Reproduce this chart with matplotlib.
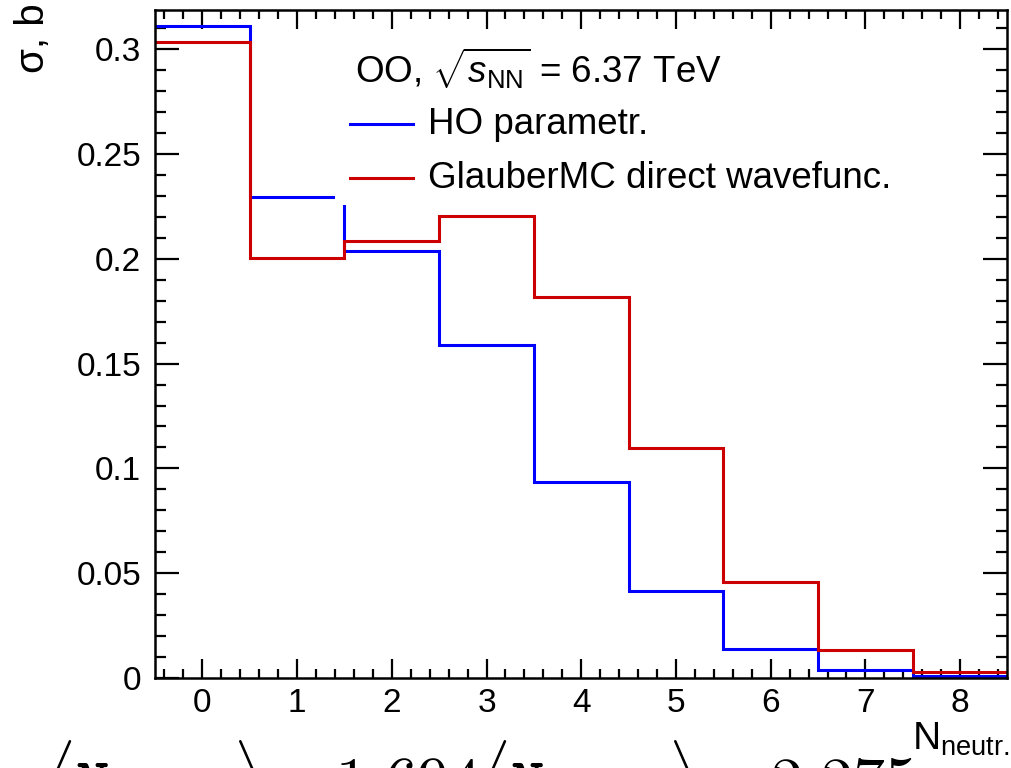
import matplotlib
matplotlib.use("Agg")
import matplotlib.pyplot as plt
from matplotlib.ticker import MultipleLocator, FuncFormatter
from matplotlib.patches import Rectangle
from matplotlib.lines import Line2D

plt.rcParams['font.family'] = ['Liberation Sans', 'DejaVu Sans']
plt.rcParams['mathtext.fontset'] = 'custom'
plt.rcParams['mathtext.rm'] = 'Liberation Sans'
plt.rcParams['mathtext.it'] = 'Liberation Sans:italic'

# neutron multiplicity bins and cross sections (b)
n_neutr = [0, 1, 2, 3, 4, 5, 6, 7, 8]
sigma_ho = [0.311, 0.2295, 0.2037, 0.1589, 0.0935, 0.0415, 0.0137, 0.0038, 0.0011]
sigma_glauber = [0.3036, 0.2004, 0.2085, 0.2204, 0.1818, 0.1097, 0.0459, 0.0133, 0.0029]
labels = ["HO parametr.", "GlauberMC direct wavefunc."]
colors = ["#0000ff", "#cc0000"]
header = r"OO, $\sqrt{s_{\mathrm{NN}}}$ = 6.37 TeV"
mean_text = (r"$\langle\mathtt{N}_{\mathtt{neutr}}\rangle = \mathtt{1.694}"
             r"\langle\mathtt{N}_{\mathtt{neutr}}\rangle = \mathtt{2.275}$")

W, H = 1012, 768
fig = plt.figure(figsize=(W / 100, H / 100), dpi=100)
ax = fig.add_axes([155 / W, 1 - 678 / H, (1007.5 - 155) / W, (678 - 10) / H])

edges = [n - 0.5 for n in n_neutr] + [n_neutr[-1] + 0.5]
for vals, c in zip([sigma_ho, sigma_glauber], colors):
    ax.stairs(vals, edges, baseline=None, color=c, lw=2.2, zorder=2)

ax.set_xlim(edges[0], edges[-1])
ax.set_ylim(0, 0.3187)

ax.xaxis.set_major_locator(MultipleLocator(1))
ax.xaxis.set_minor_locator(MultipleLocator(0.2))
ax.yaxis.set_major_locator(MultipleLocator(0.05))
ax.yaxis.set_minor_locator(MultipleLocator(0.01))
ax.yaxis.set_major_formatter(FuncFormatter(lambda v, p: "%g" % round(v, 3)))

ax.tick_params(which='both', direction='in', top=True, right=True,
               width=1.6, labelsize=24)
ax.tick_params(axis='x', which='major', length=14, pad=7)
ax.tick_params(axis='x', which='minor', length=6.5)
ax.tick_params(axis='y', which='major', length=17, pad=10)
ax.tick_params(axis='y', which='minor', length=8)
for s in ax.spines.values():
    s.set_linewidth(1.8)

# legend: white box with no border, drawn over the histograms
def axpt(x, y):
    return ((x - 155) / (1007.5 - 155), (678 - y) / (678 - 10))

x0, y0 = axpt(335, 205)
x1, y1 = axpt(965, 40)
ax.add_patch(Rectangle((x0, y0), x1 - x0, y1 - y0, transform=ax.transAxes,
                       facecolor='white', edgecolor='none', zorder=5))
hx, hy = axpt(355, 68)
ax.text(hx, hy, header, transform=ax.transAxes, fontsize=26.5,
        ha='left', va='center', zorder=6)
for i, (lab, c) in enumerate(zip(labels, colors)):
    ly = 124 + 54 * i
    lx0, yy = axpt(350, ly)
    lx1, _ = axpt(413, ly)
    ax.add_line(Line2D([lx0, lx1], [yy, yy], transform=ax.transAxes,
                       color=c, lw=2.2, zorder=6))
    tx, _ = axpt(428, ly)
    ax.text(tx, yy, lab, transform=ax.transAxes, fontsize=26.5,
            ha='left', va='center', zorder=6)

fig.text(33 / W, 1 - 3 / H, "σ, b", rotation=90, fontsize=29,
         ha='center', va='top')
fig.text(1010 / W, 1 - 750 / H, r"N$_{\mathrm{neutr.}}$", fontsize=28,
         ha='right', va='baseline')

# mean multiplicities, printed below the frame
fig.text(45 / W, 1 - 803 / H, mean_text, fontsize=46, math_fontfamily='cm',
         ha='left', va='baseline')

fig.savefig("out.png", dpi=100)
